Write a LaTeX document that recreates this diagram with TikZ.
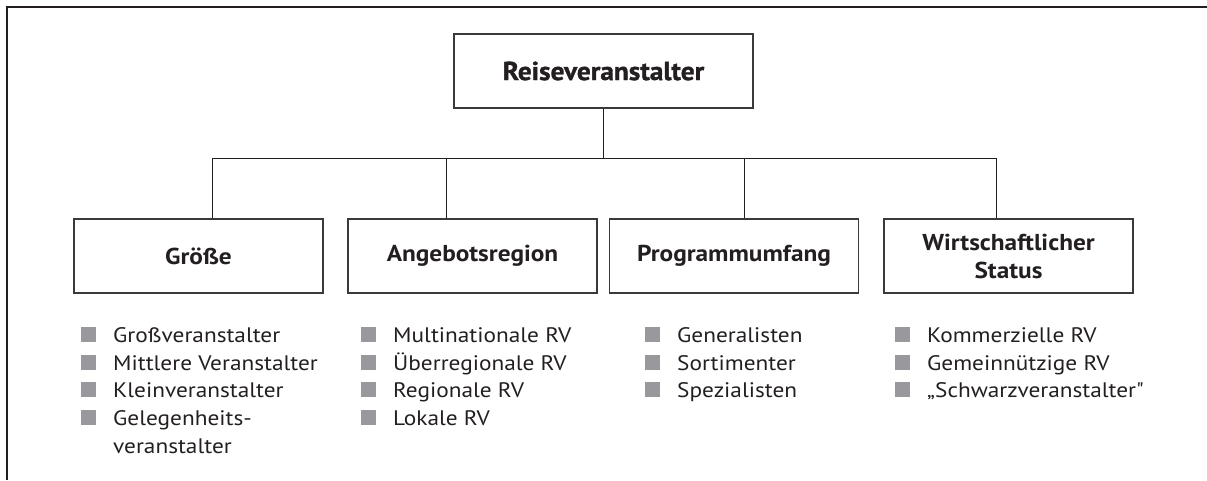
\documentclass[tikz,border=0pt]{standalone}
\usepackage{fontspec}
\setmainfont{PT Sans}[FakeStretch=1.1]
\newfontfamily\itemfont{PT Sans}[FakeStretch=1.11]
\newfontfamily\rootfont{PT Sans Bold}[FakeBold=1.2,FakeStretch=1.05]
\definecolor{ink}{HTML}{231F20}
\definecolor{bulgray}{HTML}{99989D}
\definecolor{boxline}{HTML}{3A3A3C}
\newcommand\bulsq{\textcolor{bulgray}{\rule{15pt}{15pt}}\hspace{17pt}}
\newcommand\straightquote{{\addfontfeature{Ligatures=TeXOff}"}}
\tikzset{
  topbox/.style={draw=boxline, line width=1.3pt, minimum width=299pt, minimum height=74pt, inner sep=0pt, text=ink, font=\fontsize{26}{28}\selectfont\rootfont},
  catbox/.style={draw=boxline, line width=1.3pt, minimum width=249pt, minimum height=74pt, inner sep=0pt, align=center, text=ink, font=\fontsize{23}{28}\selectfont\bfseries},
  link/.style={draw=ink, line width=1pt},
  item/.style={anchor=base west, inner sep=0pt, text=ink, font=\fontsize{21}{28}\selectfont\itemfont},
  frameline/.style={draw=ink, line width=1.6pt}
}
\begin{document}
\begin{tikzpicture}[x=1pt,y=-1pt]
\useasboundingbox (0,0) rectangle (1207,480);
% frame (top and left only)
\coordinate (fTR) at (1207,7);
\coordinate (fTL) at (7,7);
\coordinate (fBL) at (7,480);
\draw[frameline] (fTR) -- (fTL) -- (fBL);

% root
\node[topbox] (root) at (603.5,71) {Reiseveranstalter};

% categories
\node[catbox] (g) at (198.5,256) {Größe};
\node[catbox] (a) at (472.5,256) {Angebotsregion};
\node[catbox] (p) at (734,256) {Programmumfang};
\node[catbox] (w) at (1008.5,256) {Wirtschaftlicher\\Status};

% bus
\coordinate (bus) at (603.5,158);
\coordinate (bG) at (212,158);
\coordinate (bA) at (446,158);
\coordinate (bP) at (744,158);
\coordinate (bW) at (996,158);
\draw[link] (root.south) -- (bus);
\draw[link] (bG) -- (bW);
\draw[link] (bG) -- (bG |- g.north);
\draw[link] (bA) -- (bA |- a.north);
\draw[link] (bP) -- (bP |- p.north);
\draw[link] (bW) -- (bW |- w.north);

% lists
\node[item] (g1) at (81,342) {\bulsq Großveranstalter};
\node[item] (g2) at (81,370) {\bulsq Mittlere Veranstalter};
\node[item] (g3) at (81,397) {\bulsq Kleinveranstalter};
\node[item] (g4) at (81,425) {\bulsq Gelegenheits-};
\node[item] (g5) at (113,453) {veranstalter};

\node[item] (a1) at (361,342) {\bulsq Multinationale RV};
\node[item] (a2) at (361,370) {\bulsq Überregionale RV};
\node[item] (a3) at (361,397) {\bulsq Regionale RV};
\node[item] (a4) at (361,425) {\bulsq Lokale RV};

\node[item] (p1) at (645,342) {\bulsq Generalisten};
\node[item] (p2) at (645,370) {\bulsq Sortimenter};
\node[item] (p3) at (645,397) {\bulsq Spezialisten};

\node[item] (w1) at (895,342) {\bulsq Kommerzielle RV};
\node[item] (w2) at (895,370) {\bulsq Gemeinnützige RV};
\node[item] (w3) at (895,397) {\bulsq „Schwarzveranstalter\straightquote};
\end{tikzpicture}
\end{document}
